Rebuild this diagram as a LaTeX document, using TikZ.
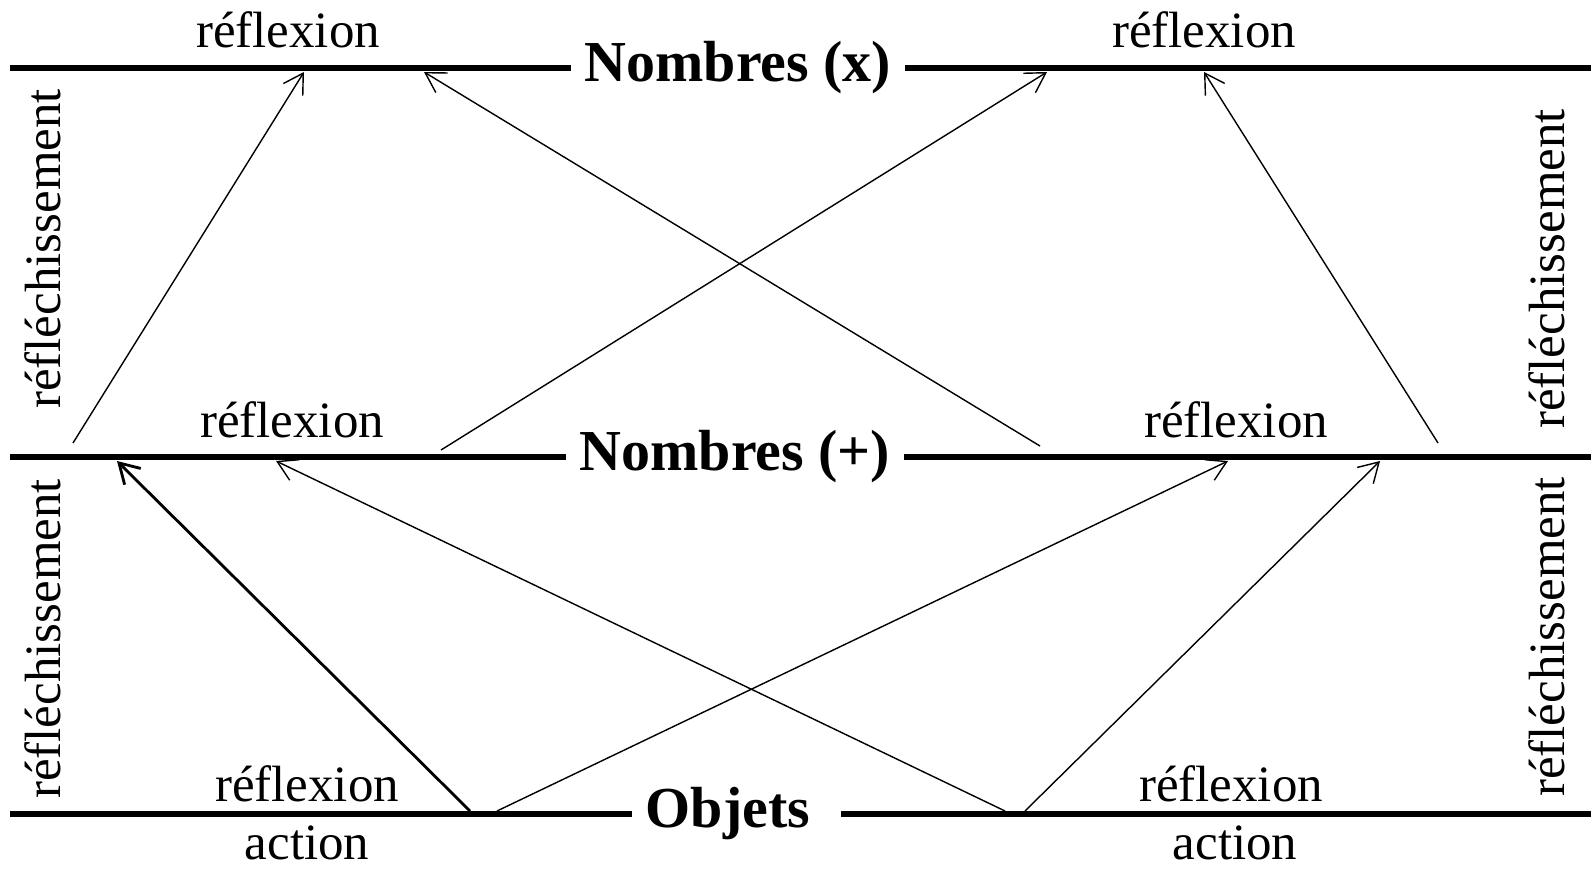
\documentclass[tikz,border=0pt]{standalone}
\usepackage{fontspec}
\setmainfont{Liberation Serif}
\usetikzlibrary{arrows.meta}

\begin{document}
\begin{tikzpicture}[x=0.02cm,y=0.02cm,>={Straight Barb[length=11pt,width=13pt]},
niveau/.style={line width=3.3pt},
fleche/.style={->,line width=0.8pt},
titre/.style={font=\fontsize{33}{38}\selectfont\bfseries,inner xsep=0.27cm},
mot/.style={font=\fontsize{29}{34}\selectfont},
vert/.style={mot,rotate=90}]
\useasboundingbox (0,0) rectangle (1591,870);
% niveaux
\node[titre](nx) at (738,802){Nombres (x)};
\node[titre](np) at (735,413){Nombres (+)};
\node[titre](ob) at (728,56){Objets};
\coordinate (nxg) at (10,802); \coordinate (nxd) at (1591,802);
\coordinate (npg) at (10,413); \coordinate (npd) at (1591,413);
\coordinate (obg) at (10,56); \coordinate (obd) at (1591,56);
\draw[niveau](nxg)--(nx.west) (nx.east)--(nxd)
(npg)--(np.west) (np.east)--(npd)
(obg)--(ob.west) ([xshift=0.35cm]ob.east)--(obd);
% textes
\node[mot](rx1) at (288,840){réflexion};
\node[mot](rx2) at (1204,840){réflexion};
\node[mot](rp1) at (292,450){réflexion};
\node[mot](rp2) at (1236,450){réflexion};
\node[mot](ro1) at (307,86){réflexion};
\node[mot](ro2) at (1231,86){réflexion};
\node[mot](ac1) at (307,27){action};
\node[mot](ac2) at (1235,27){action};
\node[vert](rh1) at (43,621){réfléchissement};
\node[vert](rb1) at (43,231){réfléchissement};
\node[vert](rh2) at (1547,601){réfléchissement};
\node[vert](rb2) at (1547,233){réfléchissement};
% fleches
\coordinate (p1) at (73,427); \coordinate (x1) at (304,798);
\coordinate (p2) at (1040,424); \coordinate (x2) at (424,798);
\coordinate (p3) at (441,420); \coordinate (x3) at (1047,798);
\coordinate (p4) at (1438,427); \coordinate (x4) at (1204,798);
\coordinate (o1) at (470,59); \coordinate (q1) at (117,409);
\coordinate (o2) at (1005,59); \coordinate (q2) at (276,409);
\coordinate (o3) at (497,59); \coordinate (q3) at (1228,409);
\coordinate (o4) at (1025,59); \coordinate (q4) at (1380,409);
\draw[fleche](p1)--(x1);
\draw[fleche](p2)--(x2);
\draw[fleche](p3)--(x3);
\draw[fleche](p4)--(x4);
\draw[fleche,line width=1.6pt](o1)--(q1);
\draw[fleche](o2)--(q2);
\draw[fleche](o3)--(q3);
\draw[fleche](o4)--(q4);
\end{tikzpicture}
\end{document}
